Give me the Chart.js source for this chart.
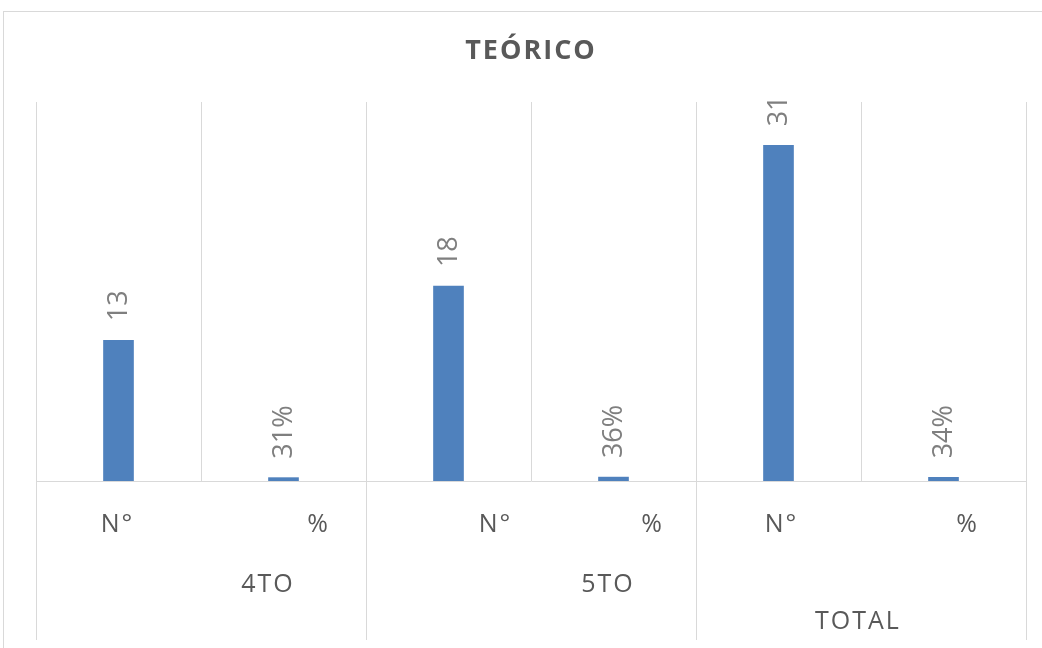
<!DOCTYPE html>
<html>
<head>
<meta charset="utf-8">
<script src="https://cdn.jsdelivr.net/npm/chart.js@4"></script>
<style>
    html, body { margin: 0; padding: 0; background: #fff; }
    #wrap { width: 1042px; height: 648px; }
</style>
</head>
<body>
<div id="wrap"><canvas id="teorico"></canvas></div>
<script>
// datos
var subLabels = ['N°', '%', 'N°', '%', 'N°', '%'];
var groupLabels = ['4TO', '5TO', 'TOTAL'];
var values = [13, 0.31, 18, 0.36, 31, 0.34];
var isPercent = [false, true, false, true, false, true];

// desplazamientos de texto como en el original (px)
var subOffsets = [-1, 35, 47, 39, 3, 24];
var groupOffsets = [{dx: 67, y: 585}, {dx: 77, y: 585}, {dx: -3, y: 622}];

var gray = '#595959';
var lineGray = '#d9d9d9';

function fmt(v, i) {
    return isPercent[i] ? Math.round(v * 100) + '%' : String(v);
}

var teoricoPlugin = {
    id: 'teorico',
    beforeDraw: function (chart) {
        var ctx = chart.ctx;
        ctx.save();
        ctx.strokeStyle = lineGray;
        ctx.lineWidth = 1;
        ctx.strokeRect(3.5, 11.5, 1045, 650);
        ctx.restore();
    },
    afterDraw: function (chart) {
        var ctx = chart.ctx;
        var xs = chart.scales.x;
        var area = chart.chartArea;
        var meta = chart.getDatasetMeta(0);
        ctx.save();

        // titulo
        ctx.fillStyle = gray;
        ctx.font = 'bold 27px "Open Sans"';
        ctx.letterSpacing = '2px';
        ctx.textAlign = 'center';
        ctx.textBaseline = 'middle';
        ctx.fillText('TEÓRICO', 531, 51);

        // etiquetas de datos, rotadas
        ctx.letterSpacing = '0px';
        ctx.font = '27px "Open Sans"';
        ctx.fillStyle = '#7f7f7f';
        meta.data.forEach(function (bar, i) {
            ctx.save();
            ctx.translate(bar.x + 1, bar.y - 19);
            ctx.rotate(-Math.PI / 2);
            ctx.textAlign = 'left';
            ctx.textBaseline = 'middle';
            ctx.fillText(fmt(values[i], i), 0, 0);
            ctx.restore();
        });

        // etiquetas del eje
        ctx.fillStyle = gray;
        ctx.font = '25px "Open Sans"';
        ctx.letterSpacing = '2px';
        ctx.textAlign = 'center';
        ctx.textBaseline = 'middle';
        subLabels.forEach(function (lab, i) {
            ctx.fillText(lab, xs.getPixelForValue(i) + subOffsets[i], 525);
        });
        groupLabels.forEach(function (lab, g) {
            var left = xs.getPixelForValue(g * 2) - (xs.getPixelForValue(1) - xs.getPixelForValue(0)) / 2;
            var right = xs.getPixelForValue(g * 2 + 1) + (xs.getPixelForValue(1) - xs.getPixelForValue(0)) / 2;
            ctx.fillText(lab, (left + right) / 2 + groupOffsets[g].dx, groupOffsets[g].y);
        });

        // separadores de grupos bajo el eje
        ctx.strokeStyle = lineGray;
        ctx.lineWidth = 1;
        var step = xs.getPixelForValue(1) - xs.getPixelForValue(0);
        for (var g = 0; g <= groupLabels.length; g++) {
            var x = Math.round(xs.getPixelForValue(0) - step / 2 + g * 2 * step) + 0.5;
            ctx.beginPath();
            ctx.moveTo(x, area.bottom);
            ctx.lineTo(x, 640);
            ctx.stroke();
        }
        ctx.restore();
    }
};

var canvas = document.getElementById('teorico');

var chartData = {
    labels: subLabels,
    datasets: [{
        data: values,
        backgroundColor: '#4F81BD',
        barThickness: 30
    }]
};

var chartOptions = {
    responsive: true,
    maintainAspectRatio: false,
    animation: false,
    layout: {
        padding: {left: 36, right: 16, top: 102, bottom: 167}
    },
    plugins: {
        legend: {display: false},
        title: {display: false},
        tooltip: {enabled: false}
    },
    scales: {
        x: {
            grid: {offset: true, color: lineGray, drawTicks: false},
            border: {color: lineGray},
            ticks: {display: false}
        },
        y: {
            display: false,
            min: 0,
            max: 35
        }
    }
};

new Chart(canvas, {
    type: 'bar',
    data: chartData,
    options: chartOptions,
    plugins: [teoricoPlugin]
});
</script>
</body>
</html>
